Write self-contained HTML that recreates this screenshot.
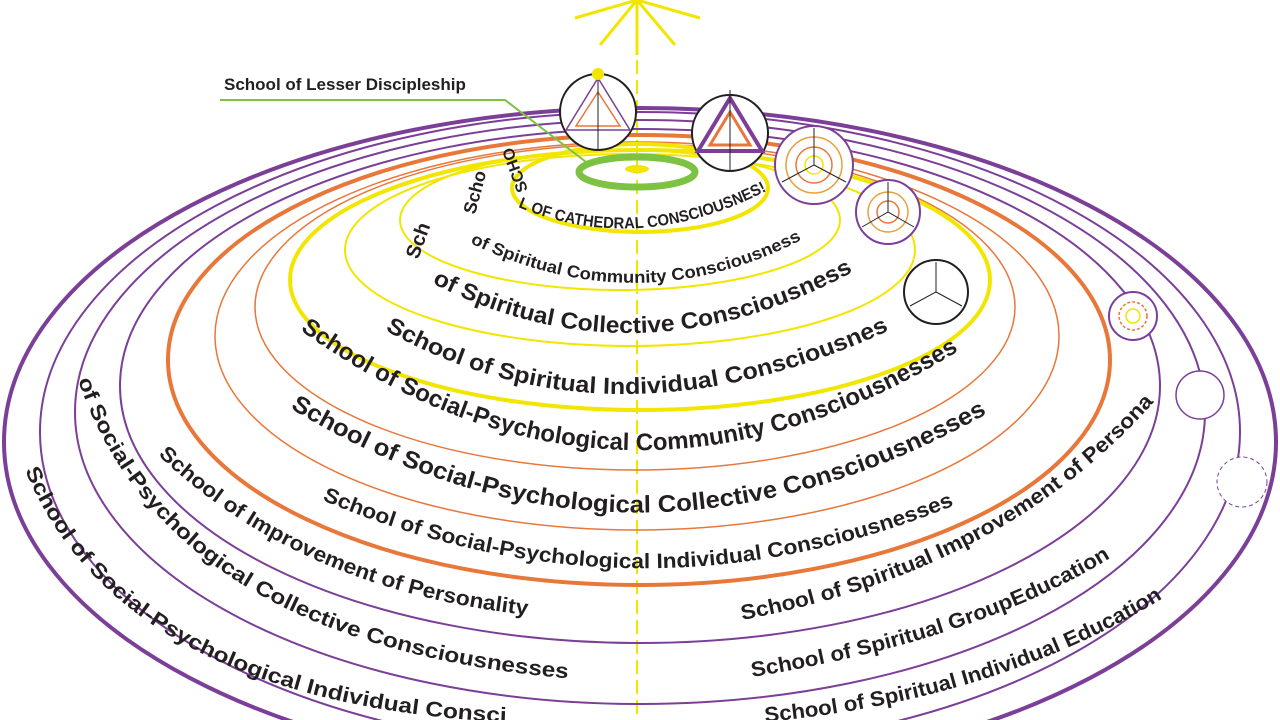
<!DOCTYPE html>
<html><head><meta charset="utf-8"><style>
html,body{margin:0;padding:0;background:#fff;width:1280px;height:720px;overflow:hidden}
svg{display:block}
text{font-family:"Liberation Sans",Arial,sans-serif;fill:#231f20;font-weight:bold}
</style></head><body>
<svg width="1280" height="720" viewBox="0 0 1280 720" xmlns="http://www.w3.org/2000/svg">
<defs>
<path id="p1" d="M385 330 Q612 458 890 330 l60 -28"/>
<path id="p2" d="M432 283 Q640 390 860 268 l55 -30"/>
<path id="p3" d="M470 243 Q640 325 805 238 l50 -26"/>
<path id="p4" d="M518 207 Q640 258 772 188 l40 -24"/>
<path id="p5" d="M300 330 Q620 560 960 350 l60 -37"/>
<path id="p6" d="M290 408 Q630 615 990 412 l60 -34"/>
<path id="p7" d="M322 500 Q640 635 960 503 l60 -25"/>
<path id="p8" d="M158 455 Q300 590 528 615 l60 7"/>
<path id="p9" d="M742 620 Q1010 570 1160 395 l40 -47"/>
<path id="p10" d="M78 380 Q170 650 588 680 l60 4"/>
<path id="p11" d="M752 677 Q980 640 1115 555 l50 -31"/>
<path id="p12" d="M25 470 Q120 700 500 722 l60 2"/>
<path id="p13" d="M765 722 Q1000 700 1168 595 l50 -31"/>
</defs>
<g stroke="#f2e600" stroke-width="3">
<line x1="637" y1="0" x2="637" y2="720" stroke-dasharray="14 6" stroke-width="2"/>
<line x1="637" y1="0" x2="600" y2="45"/><line x1="637" y1="0" x2="675" y2="45"/>
<line x1="637" y1="0" x2="575" y2="18"/><line x1="637" y1="0" x2="700" y2="18"/>
<line x1="637" y1="0" x2="637" y2="55"/>
</g>
<g fill="none">
<ellipse cx="640" cy="442" rx="636" ry="334" stroke="#7b3f98" stroke-width="4"/>
<ellipse cx="640" cy="432" rx="600" ry="320" stroke="#7b3f98" stroke-width="2"/>
<ellipse cx="640" cy="412" rx="565" ry="292" stroke="#7b3f98" stroke-width="2"/>
<ellipse cx="640" cy="386" rx="520" ry="257" stroke="#7b3f98" stroke-width="2"/>
<ellipse cx="639" cy="360" rx="471" ry="225" stroke="#e8773a" stroke-width="4"/>
<ellipse cx="637" cy="336" rx="422" ry="194" stroke="#e8773a" stroke-width="1.5"/>
<ellipse cx="635" cy="307" rx="380" ry="163" stroke="#e8773a" stroke-width="1.5"/>
<ellipse cx="640" cy="280" rx="350" ry="130" stroke="#f2e600" stroke-width="4"/>
<ellipse cx="630" cy="250" rx="285" ry="96" stroke="#f2e600" stroke-width="2"/>
<ellipse cx="620" cy="220" rx="220" ry="70" stroke="#f2e600" stroke-width="2"/>
<ellipse cx="640" cy="188" rx="128" ry="44" stroke="#f2e600" stroke-width="4"/>
<ellipse cx="637" cy="172" rx="58" ry="15" stroke="#7dc242" stroke-width="7"/>
</g>
<ellipse cx="637" cy="169" rx="12" ry="4" fill="#f2e600"/>
<polyline points="220,100 505,100 590,165" fill="none" stroke="#7dc242" stroke-width="2"/>
<text x="224" y="90" font-size="17">School of Lesser Discipleship</text>
<g fill="#fff" stroke="#231f20" stroke-width="2">
<circle cx="598" cy="112" r="38"/><circle cx="730" cy="133" r="38"/>
</g>
<g fill="#fff" stroke="#7b3f98" stroke-width="2">
<circle cx="814" cy="165" r="39"/><circle cx="888" cy="212" r="32"/>
<circle cx="936" cy="292" r="32" stroke="#231f20"/><circle cx="1133" cy="316" r="24"/>
<circle cx="1200" cy="395" r="24" stroke-width="1.5"/>
<circle cx="1242" cy="482" r="25" stroke-width="1" stroke-dasharray="4 3"/>
</g>
<g fill="none" stroke-width="1.5">
<polygon points="598,78 566,130 630,130" stroke="#7b3f98"/><polygon points="598,92 576,126 620,126" stroke="#e8773a"/>
<polygon points="730,98 698,151 762,151" stroke="#7b3f98" stroke-width="4"/><polygon points="730,112 710,145 750,145" stroke="#e8773a" stroke-width="3"/>
<circle cx="814" cy="165" r="28" stroke="#e8a13a"/><circle cx="814" cy="165" r="18" stroke="#e8773a"/><circle cx="814" cy="165" r="9" stroke="#f2e600"/>
<circle cx="888" cy="212" r="20" stroke="#e8a13a"/><circle cx="888" cy="212" r="11" stroke="#e8773a"/>
<circle cx="1133" cy="316" r="14" stroke="#e8773a" stroke-dasharray="3 2"/><circle cx="1133" cy="316" r="7" stroke="#f2e600"/>
<path d="M814 128V165L782 182M814 165L846 182M888 182V212L862 227M888 212L914 227M936 262V292L910 306M936 292L962 306M598 70V150M730 90V170" stroke="#231f20" stroke-width="1"/>
</g>
<circle cx="598" cy="74" r="6" fill="#f2e600"/>
<g>
<text font-size="23"><textPath href="#p1" textLength="525" lengthAdjust="spacingAndGlyphs">School of Spiritual Individual Consciousnes</textPath></text>
<text font-size="23"><textPath href="#p2" textLength="440" lengthAdjust="spacingAndGlyphs">of Spiritual Collective Consciousness</textPath></text>
<text font-size="17" font-weight="normal"><textPath href="#p3" textLength="345" lengthAdjust="spacingAndGlyphs">of Spiritual Community Consciousness</textPath></text>
<text font-size="16"><textPath href="#p4" textLength="258" lengthAdjust="spacingAndGlyphs">L OF CATHEDRAL CONSCIOUSNES!</textPath></text>
<text font-size="24"><textPath href="#p5" textLength="705" lengthAdjust="spacingAndGlyphs">School of Social-Psychological Community Consciousnesses</textPath></text>
<text font-size="24"><textPath href="#p6" textLength="735" lengthAdjust="spacingAndGlyphs">School of Social-Psychological Collective Consciousnesses</textPath></text>
<text font-size="21"><textPath href="#p7" textLength="650" lengthAdjust="spacingAndGlyphs">School of Social-Psychological Individual Consciousnesses</textPath></text>
<text font-size="21"><textPath href="#p8" textLength="410" lengthAdjust="spacingAndGlyphs">School of Improvement of Personality</textPath></text>
<text font-size="21"><textPath href="#p9" textLength="475" lengthAdjust="spacingAndGlyphs">School of Spiritual Improvement of Persona</textPath></text>
<text font-size="21"><textPath href="#p10" textLength="610" lengthAdjust="spacingAndGlyphs">of Social-Psychological Collective Consciousnesses</textPath></text>
<text font-size="21"><textPath href="#p11" textLength="380" lengthAdjust="spacingAndGlyphs">School of Spiritual GroupEducation</textPath></text>
<text font-size="21"><textPath href="#p12" textLength="575" lengthAdjust="spacingAndGlyphs">School of Social-Psychological Individual Consci</textPath></text>
<text font-size="21"><textPath href="#p13" textLength="420" lengthAdjust="spacingAndGlyphs">School of Spiritual Individual Education</textPath></text>
</g>
<text font-size="16" transform="translate(528,190) rotate(-110)">SCHO</text>
<text font-size="18" transform="translate(475,215) rotate(-75)">Scho</text>
<text font-size="20" transform="translate(418,260) rotate(-70)">Sch</text>
</svg>
</body></html>
